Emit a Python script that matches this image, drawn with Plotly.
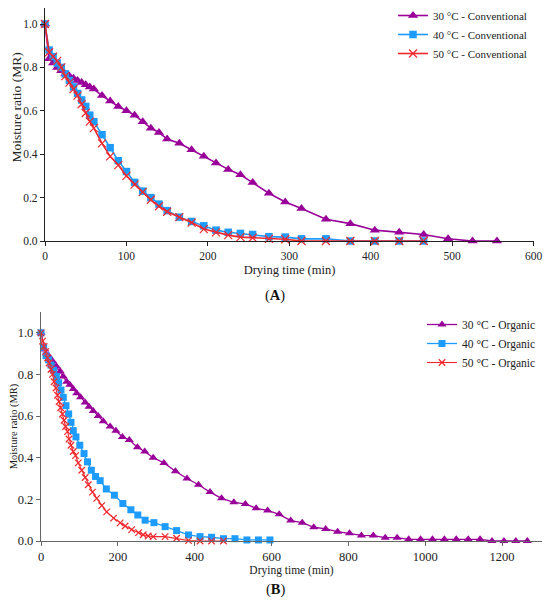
import plotly.graph_objects as go

# ---------------- Panel A: Conventional ----------------
a30_t = [0, 5, 10, 15, 20, 25, 30, 35, 40, 45, 50, 55, 60, 70, 80, 90, 100, 110, 120, 130,
         140, 150, 165, 180, 195, 210, 225, 240, 255, 275, 295, 315, 345, 375, 405, 435,
         465, 495, 525, 555]
a30_mr = [1.0, 0.84, 0.82, 0.80, 0.785, 0.77, 0.76, 0.75, 0.74, 0.73, 0.72, 0.71, 0.70,
          0.67, 0.645, 0.62, 0.60, 0.58, 0.55, 0.52, 0.50, 0.47, 0.45, 0.42, 0.39, 0.36,
          0.33, 0.305, 0.27, 0.22, 0.18, 0.15, 0.10, 0.08, 0.05, 0.04, 0.03, 0.01, 0.0, 0.0]

a40_t = [0, 5, 10, 15, 20, 25, 30, 35, 40, 45, 50, 55, 60, 70, 80, 90, 100, 110, 120, 130,
         140, 150, 165, 180, 195, 210, 225, 240, 255, 275, 295, 315, 345, 375, 405, 435, 465]
a40_mr = [1.0, 0.88, 0.85, 0.82, 0.80, 0.77, 0.74, 0.71, 0.68, 0.65, 0.62, 0.58, 0.55,
          0.49, 0.43, 0.37, 0.32, 0.27, 0.23, 0.20, 0.17, 0.14, 0.11, 0.09, 0.07, 0.05,
          0.04, 0.035, 0.03, 0.02, 0.018, 0.01, 0.01, 0.0, 0.0, 0.0, 0.0]

a50_t = a40_t
a50_mr = [1.0, 0.87, 0.85, 0.83, 0.80, 0.76, 0.73, 0.70, 0.67, 0.63, 0.59, 0.55, 0.52,
          0.45, 0.39, 0.35, 0.30, 0.26, 0.225, 0.19, 0.16, 0.135, 0.11, 0.085, 0.055, 0.04,
          0.027, 0.018, 0.015, 0.01, 0.008, 0.0, 0.0, 0.0, 0.0, 0.0, 0.0]

# ---------------- Panel B: Organic ----------------
b30_t = [0, 10, 20, 30, 40, 50, 58, 67, 75, 84, 93, 103, 115, 125, 136, 149, 162, 180, 195,
         212, 230, 251, 270, 292, 320, 350, 380, 410, 440, 470, 502, 532, 560, 590, 620, 650,
         680, 710, 741, 772, 803, 834, 865, 896, 927, 957, 988, 1019, 1050, 1081, 1112,
         1143, 1174, 1205, 1236, 1266]
b30_mr = [1.0, 0.92, 0.89, 0.865, 0.84, 0.815, 0.79, 0.765, 0.75, 0.73, 0.71, 0.69, 0.665,
          0.645, 0.625, 0.60, 0.575, 0.55, 0.53, 0.50, 0.485, 0.45, 0.43, 0.40, 0.375, 0.335,
          0.30, 0.27, 0.235, 0.205, 0.186, 0.178, 0.157, 0.147, 0.128, 0.098, 0.088, 0.066,
          0.058, 0.045, 0.037, 0.027, 0.026, 0.016, 0.016, 0.008, 0.008, 0.008, 0.008,
          0.008, 0.008, 0.008, 0.0, 0.0, 0.0, 0.0]

b40_t = [0, 7, 13, 20, 26, 33, 40, 46, 52, 58, 65, 72, 78, 84, 91, 101, 112, 121, 131, 142,
         154, 170, 191, 213, 234, 252, 271, 294, 323, 353, 384, 414, 444, 475, 505, 536, 566, 596]
b40_mr = [1.0, 0.93, 0.89, 0.87, 0.845, 0.82, 0.79, 0.76, 0.725, 0.69, 0.65, 0.61, 0.57,
          0.53, 0.50, 0.46, 0.42, 0.38, 0.34, 0.31, 0.29, 0.25, 0.22, 0.18, 0.15, 0.125,
          0.10, 0.088, 0.069, 0.05, 0.029, 0.021, 0.018, 0.011, 0.011, 0.005, 0.005, 0.005]

b50_t = [0, 4, 8, 12, 17, 21, 26, 30, 34, 39, 43, 47, 51, 56, 60, 64, 69, 73, 78, 84, 90, 97,
         106, 115, 123, 134, 145, 158, 171, 189, 206, 219, 236, 254, 266, 279, 292, 323, 353,
         384, 414, 444, 475]
b50_mr = [1.0, 0.96, 0.935, 0.91, 0.88, 0.855, 0.825, 0.80, 0.765, 0.735, 0.70, 0.67, 0.64,
          0.61, 0.58, 0.55, 0.525, 0.49, 0.46, 0.43, 0.41, 0.375, 0.34, 0.305, 0.27, 0.235,
          0.205, 0.17, 0.14, 0.11, 0.087, 0.072, 0.055, 0.04, 0.03, 0.024, 0.021, 0.021,
          0.013, 0.002, 0.0, 0.0, 0.0]

names_a = ["30 °C - Conventional", "40 °C - Conventional", "50 °C - Conventional"]
names_b = ["30 °C - Organic", "40 °C - Organic", "50 °C - Organic"]
x_ticks_a = [0, 100, 200, 300, 400, 500, 600]
x_ticks_b = [0, 200, 400, 600, 800, 1000, 1200]
y_ticks = [0.0, 0.2, 0.4, 0.6, 0.8, 1.0]

PURPLE = "#990099"
BLUE = "#1E9BFF"
RED = "#F0282D"
FONT = "Liberation Serif"

fig = go.Figure()


def add_series(t, mr, name, color, symbol, size, xa, ya, legend, lw):
    mk = dict(symbol=symbol, size=size, color=color)
    if symbol.startswith("x"):
        mk["line"] = dict(color=color, width=1.2)
    fig.add_trace(go.Scatter(
        x=t, y=mr, name=name, mode="lines+markers",
        line=dict(color=color, width=lw), marker=mk,
        xaxis=xa, yaxis=ya, legend=legend, cliponaxis=False))


add_series(a30_t, a30_mr, names_a[0], PURPLE, "triangle-up", 9, "x", "y", "legend", 1.6)
add_series(a40_t, a40_mr, names_a[1], BLUE, "square", 7.5, "x", "y", "legend", 1.6)
add_series(a50_t, a50_mr, names_a[2], RED, "x-thin", 8, "x", "y", "legend", 1.6)

add_series(b30_t, b30_mr, names_b[0], PURPLE, "triangle-up", 8, "x2", "y2", "legend2", 1.3)
add_series(b40_t, b40_mr, names_b[1], BLUE, "square", 7, "x2", "y2", "legend2", 1.3)
add_series(b50_t, b50_mr, names_b[2], RED, "x-thin", 6.5, "x2", "y2", "legend2", 1.1)

# page body has an 8 px margin; the figure is sized so the page does not scroll
OFF = 8
W, H = 550 - 2 * OFF, 605 - 2 * OFF


def px_x(p):
    return (p - OFF) / W


def px_y(p):
    return 1 - (p - OFF) / H


# panel A: value 0 at y=241 px, value 1 at y=24 px; top of plot clipped at page edge
a_top = (241 - OFF) / (241 - 24)
# panel B: time 0 at x=41 px, 1200 at x=502 px; right end clipped at page edge
b_end_px = 550 - OFF
b_right = 1200 * (b_end_px - 41) / (502 - 41)

axis_a = dict(showgrid=False, zeroline=False, showline=True, linecolor="#222",
              linewidth=1.2, ticks="outside", ticklen=4, tickcolor="#222",
              tickfont=dict(family=FONT, size=11.5, color="#222"), automargin=False,
              ticklabeloverflow="allow")
axis_b = dict(showgrid=False, zeroline=False, showline=True, linecolor="#666",
              linewidth=1.4, ticks="outside", ticklen=4, tickcolor="#666",
              tickfont=dict(family=FONT, size=12.5, color="#222"), automargin=False,
              ticklabeloverflow="allow")

fig.update_layout(
    width=W, height=H,
    margin=dict(l=0, r=0, t=0, b=0, autoexpand=False),
    paper_bgcolor="white", plot_bgcolor="white",
    font=dict(family=FONT, color="#222"),
    xaxis=dict(axis_a, domain=[px_x(45), px_x(534)], range=[0, 600.5], tickvals=x_ticks_a,
               anchor="y",
               title=dict(text="Drying time (min)", font=dict(family=FONT, size=12.5),
                          standoff=4)),
    yaxis=dict(axis_a, domain=[px_y(241), 1.0], range=[0, a_top],
               tickvals=y_ticks, tickformat=".1f", anchor="x"),
    xaxis2=dict(axis_b, domain=[px_x(41), 1.0], range=[0, b_right], tickvals=x_ticks_b,
                anchor="y2",
                title=dict(text="Drying time (min)", font=dict(family=FONT, size=11.5),
                           standoff=1)),
    yaxis2=dict(axis_b, domain=[px_y(541), px_y(312)], range=[0, 1.1],
                tickvals=y_ticks, tickformat=".1f", anchor="x2",
                title=dict(text="Moisture ratio (MR)", font=dict(family=FONT, size=10.5),
                           standoff=5)),
    legend=dict(x=px_x(393), y=1 + 7 / H, xanchor="left", yanchor="top",
                bgcolor="rgba(0,0,0,0)", font=dict(family=FONT, size=11, color="#222"),
                tracegroupgap=0, itemwidth=30),
    legend2=dict(x=px_x(422), y=px_y(310), xanchor="left", yanchor="top",
                 bgcolor="rgba(0,0,0,0)", font=dict(family=FONT, size=11.5, color="#222"),
                 tracegroupgap=0, itemwidth=30),
    annotations=[
        dict(text="Moisture ratio (MR)", textangle=-90, x=px_x(15.5), y=px_y(108),
             xref="paper", yref="paper", xanchor="center", yanchor="middle",
             showarrow=False, font=dict(family=FONT, size=13.5, color="#222")),
        dict(text="(<b>A</b>)", x=px_x(275), y=px_y(295), xref="paper", yref="paper",
             xanchor="center", yanchor="middle",
             showarrow=False, font=dict(family=FONT, size=14.5, color="#111")),
        dict(text="(<b>B</b>)", x=px_x(276), y=px_y(589), xref="paper", yref="paper",
             xanchor="center", yanchor="middle",
             showarrow=False, font=dict(family=FONT, size=14.5, color="#111")),
    ],
)

fig.write_html("out.html")
